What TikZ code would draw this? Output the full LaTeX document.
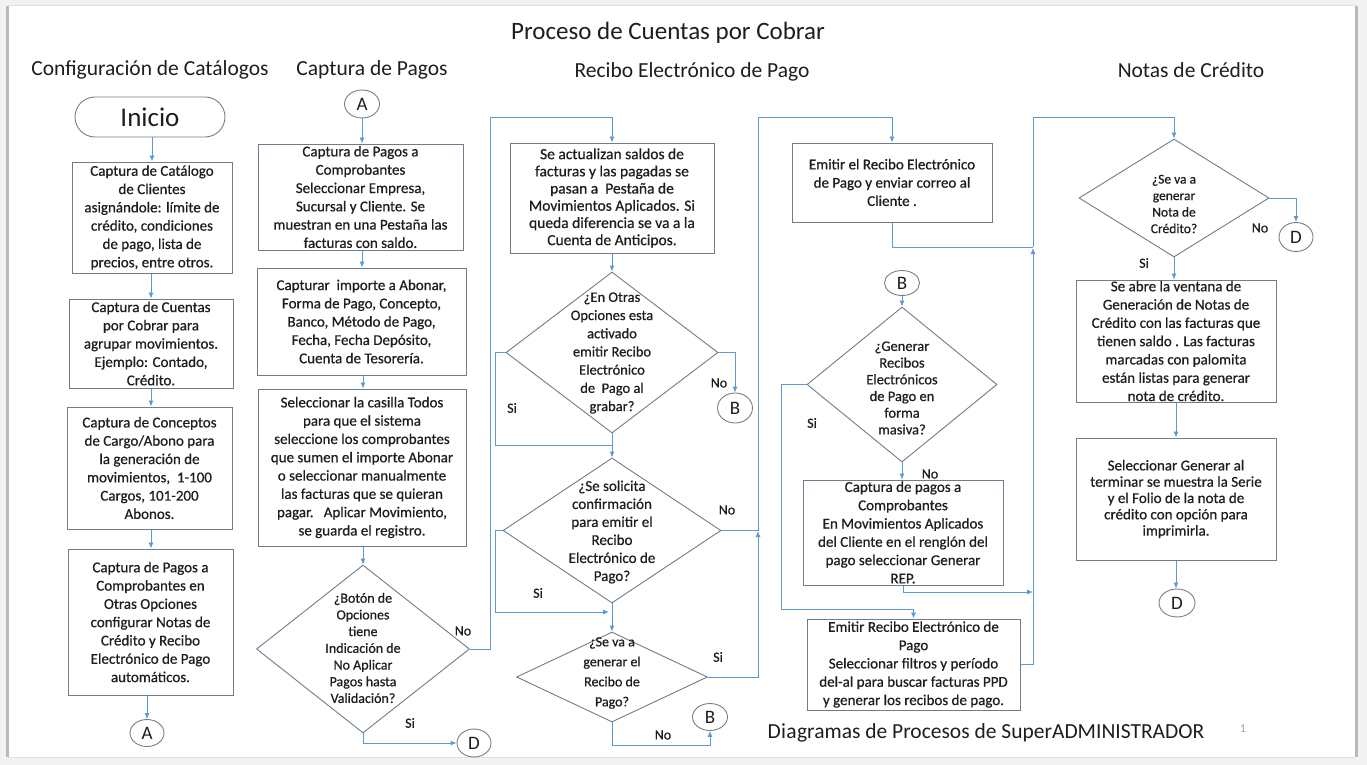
\documentclass[tikz,border=0pt]{standalone}
\usepackage{fontspec}
\setmainfont{Carlito}
\newfontfamily\bfnt{Carlito}[FakeBold=0.6]
\usetikzlibrary{arrows.meta,shapes.geometric}
\definecolor{boxc}{RGB}{112,124,138}
\definecolor{linec}{RGB}{91,155,213}
\definecolor{circc}{RGB}{125,125,125}
\definecolor{txtc}{RGB}{30,30,30}
\tikzset{
  box/.style={draw=boxc, line width=1pt, fill=white, align=center, inner sep=0pt, text=txtc, font=\bfnt\fontsize{15}{18.3}\selectfont},
  dia/.style={diamond, draw=boxc, line width=0.9pt, inner sep=0pt},
  dtxt/.style={align=center, inner sep=0pt, text=txtc},
  conn/.style={ellipse, draw=circc, line width=0.9pt, inner sep=0pt, text=txtc, font=\fontsize{19}{20}\selectfont},
  ln/.style={draw=linec, line width=0.9pt},
  arr/.style={ln, -{Latex[length=6pt,width=5pt]}},
  lab/.style={text=txtc, font=\bfnt\fontsize{14}{16}\selectfont, inner sep=0pt},
  hdr/.style={text=txtc, font=\fontsize{21.5}{24}\selectfont, inner sep=0pt},
}
\begin{document}
\begin{tikzpicture}[x=1pt,y=-1pt]
\useasboundingbox (0,0) rectangle (1367,765);
\fill[gray!10] (0,0) rectangle (1367,765);
\fill[white] (8,6) rectangle (1355,757);
\draw[gray!55, line width=3pt] (7,6) -- (7,757);
\draw[gray!55, line width=3pt] (1356,6) -- (1356,757);
\draw[gray!25, line width=1pt] (8,5.5) -- (1355,5.5);
\draw[gray!25, line width=1pt] (8,757.5) -- (1355,757.5);

% titles
\node[text=txtc, font=\fontsize{25}{28}\selectfont, inner sep=0pt] (title) at (668,33) {Proceso de Cuentas por Cobrar};
\node[hdr] (h1) at (150,70) {Configuración de Catálogos};
\node[hdr] (h2) at (372,70) {Captura de Pagos};
\node[hdr] (h3) at (692,72) {Recibo Electrónico de Pago};
\node[hdr] (h4) at (1191,70) {Notas de Crédito};
\node[text=txtc, font=\fontsize{21.5}{24}\selectfont, inner sep=0pt] (foot) at (986,733) {D\kern0.3pt i\kern0.3pt a\kern0.3pt gramas de Procesos de SuperADMINISTRADOR};
\node[text=gray!70, font=\fontsize{12}{14}\selectfont, inner sep=0pt] (pg) at (1243,729) {1};

% column 1
\node[draw=circc, line width=0.9pt, rounded corners=20pt, minimum width=150pt, minimum height=40pt, inner sep=0pt, text=txtc, font=\fontsize{27}{30}\selectfont] (ini) at (150,117) {Inicio};
\node[box, minimum width=160pt, minimum height=111pt] (b1) at (152,217.5) {Captura de Catálogo\\de Clientes\\asignándole: límite de\\crédito, condiciones\\de pago, lista de\\precios, entre otros.};
\node[box, minimum width=164pt, minimum height=89pt] (b2) at (151,343.5) {Captura de Cuentas\\por Cobrar para\\agrupar movimientos.\\Ejemplo: Contado,\\Crédito.};
\node[box, minimum width=165pt, minimum height=122pt] (b3) at (149.5,468) {Captura de Conceptos\\de Cargo/Abono para\\la generación de\\movimientos,~~1-100\\Cargos, 101-200\\Abonos.};
\node[box, minimum width=165pt, minimum height=146pt] (b4) at (150.5,622) {Captura de Pagos a\\Comprobantes en\\Otras Opciones\\configurar Notas de\\Crédito y Recibo\\Electrónico de Pago\\automáticos.};
\node[conn, minimum width=34pt, minimum height=27pt] (cA1) at (147,733) {A};

% column 2
\node[conn, minimum width=35pt, minimum height=28pt] (cA2) at (362,104) {A};
\node[box, minimum width=205pt, minimum height=106pt] (b5) at (360.5,197) {Captura de Pagos a\\Comprobantes\\Seleccionar Empresa,\\Sucursal y Cliente. Se\\muestran en una Pestaña las\\facturas con saldo.};
\node[box, minimum width=209pt, minimum height=107pt] (b6) at (361.5,321.5) {Capturar~~importe a Abonar,\\Forma de Pago, Concepto,\\Banco, Método de Pago,\\Fecha, Fecha Depósito,\\Cuenta de Tesorería.};
\node[box, minimum width=208pt, minimum height=157pt] (b7) at (362,467.5) {Seleccionar la casilla Todos\\para que el sistema\\seleccione los comprobantes\\que sumen el importe Abonar\\o seleccionar manualmente\\las facturas que se quieran\\pagar.~~~Aplicar Movimiento,\\se guarda el registro.};
\node[dia, minimum width=213pt, minimum height=168pt] (d1) at (363,649) {};
\node[dtxt, font=\bfnt\fontsize{14}{16.7}\selectfont] (d1t) at (363,648) {¿Botón de\\Opciones\\tiene\\Indicación de\\No Aplicar\\Pagos hasta\\Validación?};
\node[conn, minimum width=34pt, minimum height=28pt] (cD1) at (474,743) {D};

% column 3
\node[box, minimum width=204pt, minimum height=110pt, font=\bfnt\fontsize{15.5}{17.2}\selectfont] (b8) at (612,198) {Se actualizan saldos de\\facturas y las pagadas se\\pasan a~~Pestaña de\\Movimientos Aplicados. Si\\queda diferencia se va a la\\Cuenta de Anticipos.};
\node[dia, minimum width=212pt, minimum height=161pt] (d2) at (612,352.5) {};
\node[dtxt, font=\bfnt\fontsize{14.5}{18.2}\selectfont] (d2t) at (612,353) {¿En Otras\\Opciones esta\\activado\\emitir Recibo\\Electrónico\\de~~Pago al\\grabar?};
\node[conn, minimum width=35pt, minimum height=30pt] (cB1) at (735,408) {B};
\node[dia, minimum width=218pt, minimum height=145pt] (d3) at (612,530.5) {};
\node[dtxt, font=\bfnt\fontsize{15}{18}\selectfont] (d3t) at (612,532) {¿Se solicita\\confirmación\\para emitir el\\Recibo\\Electrónico de\\Pago?};
\node[dia, minimum width=191pt, minimum height=90pt] (d4) at (612,677) {};
\node[dtxt, font=\bfnt\fontsize{14}{20}\selectfont] (d4t) at (612,673) {¿Se va a\\generar el\\Recibo de\\Pago?};
\node[conn, minimum width=35pt, minimum height=27pt] (cB2) at (710,717) {B};

% column 3b
\node[box, minimum width=200pt, minimum height=79pt] (b9) at (892,182.5) {Emitir el Recibo Electrónico\\de Pago y enviar correo al\\Cliente .};
\node[conn, minimum width=35pt, minimum height=25pt] (cB3) at (902,283) {B};
\node[dia, minimum width=190pt, minimum height=155pt] (d6) at (902,384.5) {};
\node[dtxt, font=\bfnt\fontsize{14.5}{16.7}\selectfont] (d6t) at (902,388) {¿Generar\\Recibos\\Electrónicos\\de Pago en\\forma\\masiva?};
\node[box, minimum width=200pt, minimum height=105pt] (b10) at (903,532.5) {Captura de pagos a\\Comprobantes\\En Movimientos Aplicados\\del Cliente en el renglón del\\pago seleccionar Generar\\REP.};
\node[box, minimum width=213pt, minimum height=91pt] (b11) at (913.5,664.5) {Emitir Recibo Electrónico de\\Pago\\Seleccionar filtros y período\\del-al para buscar facturas PPD\\y generar los recibos de pago.};

% column 4
\node[dia, minimum width=190pt, minimum height=118pt] (d5) at (1174,198) {};
\node[dtxt, font=\bfnt\fontsize{13.5}{16.5}\selectfont] (d5t) at (1174,204) {¿Se va a\\generar\\Nota de\\Crédito?};
\node[conn, minimum width=34pt, minimum height=29pt] (cD2) at (1296,237) {D};
\node[box, minimum width=200pt, minimum height=122pt] (b12) at (1176,341) {Se abre la ventana de\\Generación de Notas de\\Crédito con las facturas que\\tienen saldo . Las facturas\\marcadas con palomita\\están listas para generar\\nota de crédito.};
\node[box, minimum width=200pt, minimum height=122pt, font=\bfnt\fontsize{15}{16.3}\selectfont] (b13) at (1176,499) {Seleccionar Generar al\\terminar se muestra la Serie\\y el Folio de la nota de\\crédito con opción para\\imprimirla.};
\node[conn, minimum width=36pt, minimum height=28pt] (cD3) at (1177,603) {D};

% connectors column 1
\draw[arr] (ini.south -| b1.north) -- (b1.north);
\draw[arr] (b1.south -| 151,0) -- (b2.north -| 151,0);
\draw[arr] (b2.south -| 151,0) -- (b3.north -| 151,0);
\draw[arr] (b3.south -| 151,0) -- (b4.north -| 151,0);
\draw[arr] (b4.south -| cA1.north) -- (cA1.north);

% column 2
\draw[arr] (cA2.south) -- (cA2.south |- b5.north);
\draw[arr] (b5.south -| cA2.south) -- (b6.north -| cA2.south);
\draw[arr] (b6.south -| 363,0) -- (b7.north -| 363,0);
\draw[arr] (b7.south -| d1.north) -- (d1.north);
\draw[ln] (d1.east) -- (490,649) -- (490,117);
\draw[arr] (490,117) -| (b8.north -| d2.north);
\node[lab] (l1) at (463,631) {No};
\draw[arr] (d1.south) |- (cD1.west);
\node[lab] (l2) at (410,723) {Si};

% column 3
\draw[arr] (b8.south -| d2.north) -- (d2.north);
\draw[arr] (d2.east) -| (cB1.north);
\node[lab] (l3) at (719,383) {No};
\draw[ln] (d2.west) -- (495,352.5) |- (612,445);
\node[lab] (l4) at (512,408) {Si};
\draw[arr] (d2.south) -- (d3.north);
\draw[arr] (d3.west) -- (495,530.5) |- (609,612);
\node[lab] (l5) at (538,593) {Si};
\draw[arr] (d3.south) -- (d4.north);
\draw[arr] (d4.east) -- (758,677) -- (758,531);
\node[lab] (l6) at (718,657) {Si};
\draw[ln] (d3.east) -- (758,530.5);
\node[lab] (l7) at (727,510) {No};
\draw[arr] (758,530.5) -- (758,117) -| (b9.north);
\draw[arr] (d4.south) -- (612,745) -| (cB2.south);
\node[lab] (l8) at (663,735) {No};

% column 3b
\draw[ln] (b9.south) -- (892,247) -- (1033,247);
\draw[arr] (b11.east) -- (1033,664.5) -- (1033,248);
\draw[arr] (b10.south) |- (1033,592);
\draw[arr] (1033,247) -- (1033,117) -| (d5.north);
\draw[arr] (cB3.south) -- (d6.north);
\draw[arr] (d6.south) -- (d6.south |- b10.north);
\node[lab] (l9) at (930,474) {No};
\draw[arr] (d6.west) -- (781,384.5) -- (781,609) -| (b11.north);
\node[lab] (l10) at (812,423) {Si};

% column 4
\draw[arr] (d5.east) -| (cD2.north);
\node[lab] (l11) at (1260,228) {No};
\draw[arr] (d5.south) -- (d5.south |- b12.north);
\node[lab] (l12) at (1144,263) {Si};
\draw[arr] (b12.south) -- (b13.north);
\draw[arr] (b13.south) -- (b13.south |- cD3.north);
\end{tikzpicture}
\end{document}
